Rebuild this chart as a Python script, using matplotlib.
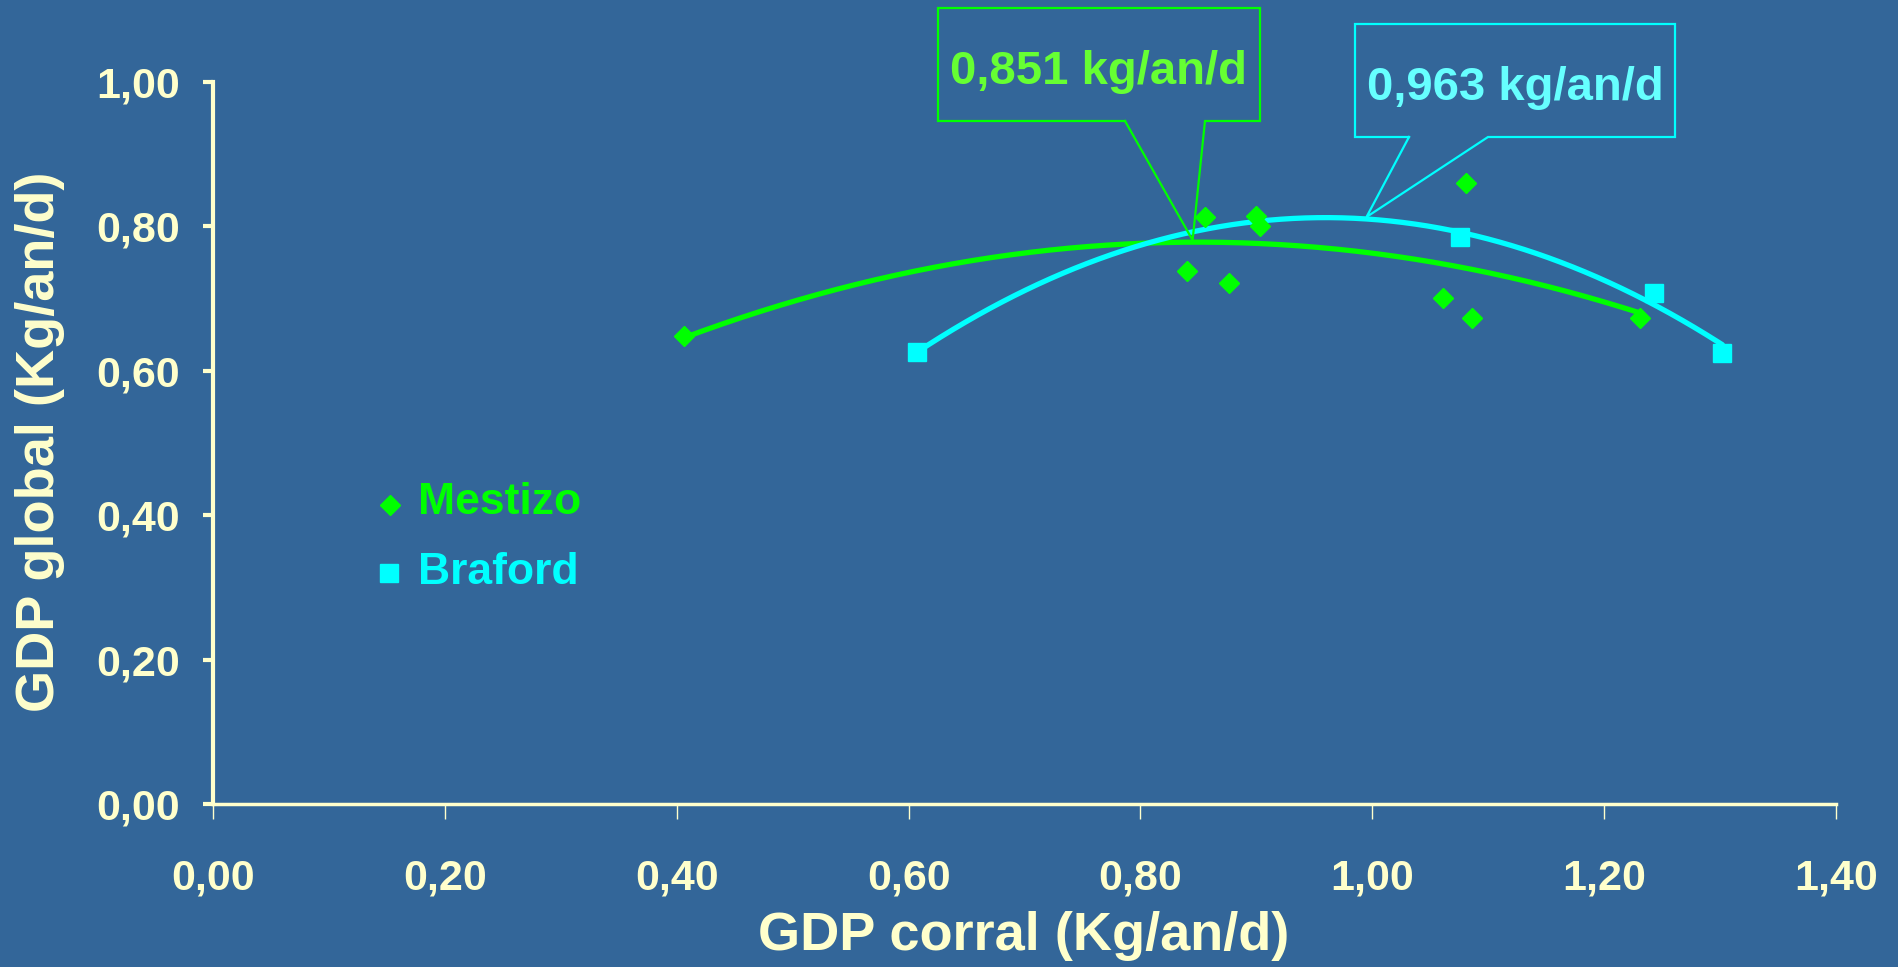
import numpy as np
import matplotlib
matplotlib.use("Agg")
import matplotlib.pyplot as plt
from matplotlib.lines import Line2D

plt.rcParams['font.family'] = ['Liberation Sans', 'DejaVu Sans']
plt.rcParams['font.weight'] = 'bold'

# ---- data ----
mestizo_x = [0.406, 0.840, 0.856, 0.876, 0.900, 0.903, 1.061, 1.081, 1.086, 1.231]
mestizo_y = [0.648, 0.738, 0.813, 0.722, 0.815, 0.800, 0.701, 0.860, 0.673, 0.673]
braford_x = [0.607, 1.076, 1.243, 1.302]
braford_y = [0.626, 0.786, 0.708, 0.625]
x_ticks = [0.0, 0.2, 0.4, 0.6, 0.8, 1.0, 1.2, 1.4]
y_ticks = [0.0, 0.2, 0.4, 0.6, 0.8, 1.0]
series_names = ["Mestizo", "Braford"]
callout_texts = ["0,851 kg/an/d", "0,963 kg/an/d"]

BG = '#336699'
AXC = '#FFFFCC'
GREEN = '#00FF00'
CYAN = '#00FFFF'

W, H = 1898, 967
fig = plt.figure(figsize=(W / 100, H / 100), dpi=100, facecolor=BG)
ax = fig.add_axes([213 / W, 1 - 804 / H, (1836 - 213) / W, (804 - 82) / H])
ax.set_facecolor(BG)

def fmt(v):
    return f"{v:.2f}".replace('.', ',')

# trend lines (quadratic fit, like the spreadsheet trendline)
for xs, ys, col in [(mestizo_x, mestizo_y, GREEN), (braford_x, braford_y, CYAN)]:
    c = np.polyfit(xs, ys, 2)
    xx = np.linspace(min(xs), max(xs), 200)
    ax.plot(xx, np.polyval(c, xx), color=col, lw=3.8, zorder=2, solid_capstyle='round')

ax.plot(mestizo_x, mestizo_y, linestyle='none', marker='D', ms=10.5, color=GREEN, zorder=3)
ax.plot(braford_x, braford_y, linestyle='none', marker='s', ms=12.5, color=CYAN, zorder=3)

ax.set_xlim(0, 1.4)
ax.set_ylim(0, 1.0)
ax.set_xticks(x_ticks)
ax.set_yticks(y_ticks)
ax.set_xticklabels([fmt(v) for v in x_ticks])
ax.set_yticklabels([fmt(v) for v in y_ticks])
for s in ['top', 'right']:
    ax.spines[s].set_visible(False)
ax.spines['left'].set_color(AXC)
ax.spines['left'].set_linewidth(3)
ax.spines['bottom'].set_color(AXC)
ax.spines['bottom'].set_linewidth(2.5)
ax.tick_params(axis='x', colors=AXC, length=11, width=1, pad=28, labelsize=31, direction='out')
ax.tick_params(axis='y', colors=AXC, length=7, width=3, pad=17, labelsize=31, direction='out')
for lab in ax.get_xticklabels() + ax.get_yticklabels():
    lab.set_fontweight('bold')

fig.text(1024 / W, 1 - 936 / H, "GDP corral (Kg/an/d)", color=AXC, fontsize=39,
         fontweight='bold', ha='center', va='center')
fig.text(40 / W, 1 - 442 / H, "GDP global (Kg/an/d)", color=AXC, fontsize=39,
         fontweight='bold', ha='center', va='center', rotation=90)

# legend
fig.add_artist(Line2D([390 / W], [1 - 505 / H], marker='D', ms=10.5, color=GREEN,
                      linestyle='none', transform=fig.transFigure))
fig.add_artist(Line2D([389 / W], [1 - 573 / H], marker='s', ms=12.5, color=CYAN,
                      linestyle='none', transform=fig.transFigure))
fig.text(418 / W, 1 - 503 / H, series_names[0], color=GREEN, fontsize=32,
         fontweight='bold', ha='left', va='center')
fig.text(418 / W, 1 - 572 / H, series_names[1], color=CYAN, fontsize=32,
         fontweight='bold', ha='left', va='center')

# callouts
def callout(x0, x1, ytop, ybot, g0, g1, pt, text, lcol, tcol, ty):
    px, py = ax.transData.transform(pt)
    py = H - py  # to image coordinates (top-down)
    pts = [(g0, ybot), (x0, ybot), (x0, ytop), (x1, ytop), (x1, ybot), (g1, ybot),
           (px, py), (g0, ybot)]
    xs = [p[0] / W for p in pts]
    ys = [1 - p[1] / H for p in pts]
    fig.add_artist(Line2D(xs, ys, color=lcol, lw=1.6, transform=fig.transFigure,
                          solid_joinstyle='miter'))
    fig.text((x0 + x1) / 2 / W, 1 - ty / H, text, color=tcol, fontsize=34,
             fontweight='bold', ha='center', va='center')

callout(938, 1260, 8, 121, 1125, 1205, (0.845, 0.781), callout_texts[0], GREEN, '#66FF33', 72)
callout(1355, 1675, 24, 137, 1409, 1488, (0.995, 0.813), callout_texts[1], CYAN, '#66FFFF', 88)

fig.savefig('out.png', dpi=100, facecolor=BG)
